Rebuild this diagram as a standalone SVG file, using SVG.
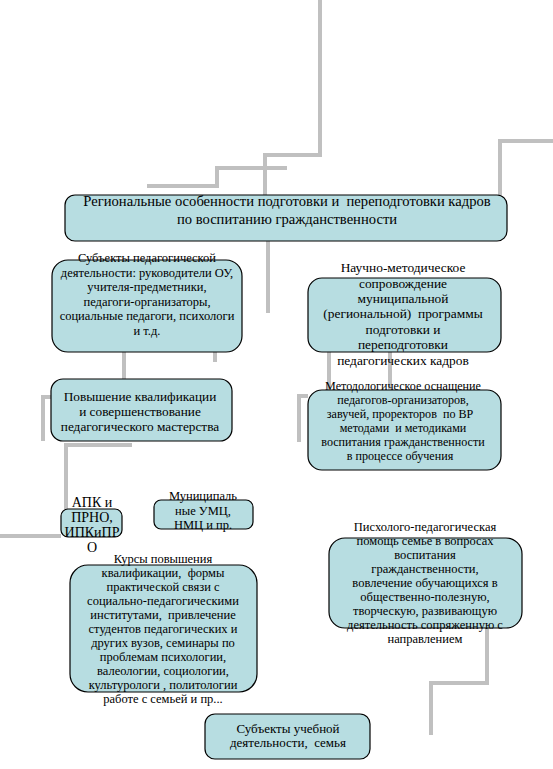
<svg xmlns="http://www.w3.org/2000/svg" width="553" height="769" viewBox="0 0 553 769">
<style>
.box{fill:#b7dde1;stroke:#000;stroke-width:1.2}
.ln{fill:none;stroke:#c0c0c0;stroke-width:4}
text{font-family:"Liberation Serif","Times New Roman",serif;font-size:12.5px;fill:#000;text-anchor:middle;white-space:pre}
.t{font-size:14.6px}
.s{font-size:13.4px}
.q{font-size:13.3px}
.m{font-size:12.1px}
.a{font-size:14px}
.l{font-size:13px}
</style>
<rect width="553" height="769" fill="#fff"/>
<g id="connectors">
<path class="ln" d="M320,0 V155 H265 V195"/>
<path class="ln" d="M287,168 H217 V186 H147"/>
<path class="ln" d="M553,141 H500 V195"/>
<path class="ln" d="M268,241 V313"/>
<path class="ln" d="M124,352 V379"/>
<path class="ln" d="M215,352 V362"/>
<path class="ln" d="M51,397 H43 V441"/>
<path class="ln" d="M132,445 H66 V509"/>
<path class="ln" d="M0,536 H61"/>
<path class="ln" d="M329,352 V390"/>
<path class="ln" d="M390,352 V390"/>
<path class="ln" d="M308,396 H299 V442"/>
<path class="ln" d="M487,628 V683 H431 V735"/>
</g>
<g id="title">
<rect class="box" x="65" y="195" width="442" height="46" rx="10"/>
<text class="t" x="287" y="206">Региональные особенности подготовки и  переподготовки кадров</text>
<text class="t" x="287" y="224">по воспитанию гражданственности</text>
</g>
<g id="subjects">
<rect class="box" x="52" y="260" width="190" height="92" rx="16"/>
<text x="147" y="262">Субъекты педагогической</text>
<text x="147" y="277">деятельности: руководители ОУ,</text>
<text x="147" y="291">учителя-предметники,</text>
<text x="147" y="306">педагоги-организаторы,</text>
<text x="147" y="320">социальные педагоги, психологи</text>
<text x="147" y="335">и т.д.</text>
</g>
<g id="science">
<rect class="box" x="308" y="278" width="193" height="74" rx="14"/>
<text class="s" x="403" y="272">Научно-методическое</text>
<text class="s" x="403" y="288">сопровождение</text>
<text class="s" x="403" y="303">муниципальной</text>
<text class="s" x="403" y="318">(региональной)  программы</text>
<text class="s" x="403" y="334">подготовки и</text>
<text class="s" x="403" y="349">переподготовки</text>
<text class="s" x="403" y="365">педагогических кадров</text>
</g>
<g id="qualification">
<rect class="box" x="51" y="379" width="181" height="62" rx="12"/>
<text class="q" x="140" y="401">Повышение квалификации</text>
<text class="q" x="140" y="416">и совершенствование</text>
<text class="q" x="140" y="431">педагогического мастерства</text>
</g>
<g id="method">
<rect class="box" x="308" y="390" width="193" height="80" rx="14"/>
<text class="m" x="403" y="390">Методологическое оснащение</text>
<text class="m" x="403" y="404">педагогов-организаторов,</text>
<text class="m" x="400" y="418">завучей, проректоров  по ВР</text>
<text class="m" x="403" y="432">методами  и методиками</text>
<text class="m" x="403" y="446">воспитания гражданственности</text>
<text class="m" x="400" y="460">в процессе обучения</text>
</g>
<g id="apk">
<rect class="box" x="61" y="509" width="61" height="28" rx="7"/>
<text class="a" x="92" y="507">АПК и</text>
<text class="a" x="92" y="522">ПРНО,</text>
<text class="a" x="92" y="537">ИПКиПР</text>
<text class="a" x="92" y="552">О</text>
</g>
<g id="umc">
<rect class="box" x="154" y="500" width="99" height="29" rx="7"/>
<text x="203" y="500">Муниципаль</text>
<text x="203" y="515">ные УМЦ,</text>
<text x="203" y="529">НМЦ и пр.</text>
</g>
<g id="courses">
<rect class="box" x="70" y="565" width="187" height="127" rx="18"/>
<text x="163" y="563">Курсы повышения</text>
<text x="163" y="577">квалификации,  формы</text>
<text x="163" y="591">практической связи с</text>
<text x="163" y="605">социально-педагогическими</text>
<text x="163" y="619">институтами,  привлечение</text>
<text x="163" y="633">студентов педагогических и</text>
<text x="163" y="647">других вузов, семинары по</text>
<text x="163" y="661">проблемам психологии,</text>
<text x="163" y="675">валеологии, социологии,</text>
<text x="163" y="689">культурологи , политологии</text>
<text x="163" y="703">работе с семьей и пр...</text>
</g>
<g id="psych">
<rect class="box" x="329" y="538" width="193" height="90" rx="16"/>
<text x="425" y="531">Писхолого-педагогическая</text>
<text x="425" y="545">помощь семье в вопросах</text>
<text x="425" y="559">воспитания</text>
<text x="425" y="573">гражданственности,</text>
<text x="425" y="587">вовлечение обучающихся в</text>
<text x="425" y="601">общественно-полезную,</text>
<text x="425" y="615">творческую, развивающую</text>
<text x="425" y="629">деятельность сопряженную с</text>
<text x="425" y="643">направлением</text>
</g>
<g id="learners">
<rect class="box" x="205" y="714" width="165" height="45" rx="10"/>
<text class="l" x="288" y="733">Субъекты учебной</text>
<text class="l" x="288" y="747">деятельности,  семья</text>
</g>
</svg>
